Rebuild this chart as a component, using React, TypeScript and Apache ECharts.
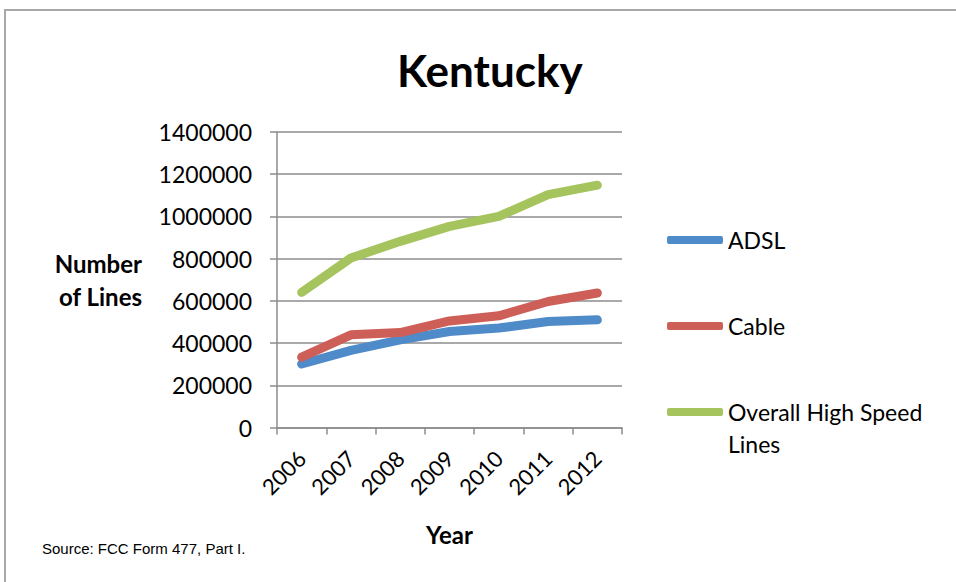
import React, { useEffect, useRef } from "react";
import * as echarts from "echarts";

const years = ["2006", "2007", "2008", "2009", "2010", "2011", "2012"];
const adsl = [301000, 365000, 415000, 455000, 471000, 502000, 510000];
const cable = [333000, 439000, 450000, 505000, 529000, 597000, 637000];
const overall = [640000, 803000, 882000, 953000, 1000000, 1103000, 1148000];
const seriesNames = ["ADSL", "Cable", "Overall High Speed Lines"];
const colors = ["#4F8BC9", "#CE5F58", "#A5C45D"];

const FONT = "Lato, 'Open Sans', sans-serif";

export default function App() {
  const ref = useRef<HTMLDivElement>(null);
  useEffect(() => {
    const chart = echarts.init(ref.current!, null, { renderer: "svg" });
    const legendBase = (name: string, top: number) => ({
      orient: "vertical",
      left: 662,
      top,
      data: [name],
      icon: "roundRect",
      itemWidth: 56,
      itemHeight: 8,
      itemGap: 5,
      textStyle: { fontFamily: FONT, fontSize: 23, color: "#000", lineHeight: 32 },
    });
    chart.setOption({
      animation: false,
      backgroundColor: "#fff",
      color: colors,
      title: {
        text: "Kentucky",
        left: 392,
        top: 43,
        textStyle: { fontFamily: FONT, fontSize: 44, fontWeight: "bold", color: "#000" },
      },
      legend: [
        legendBase(seriesNames[0], 219),
        legendBase(seriesNames[1], 305),
        {
          ...legendBase(seriesNames[2], 359),
          formatter: () => "\nOverall High Speed\nLines",
        },
      ],
      grid: { left: 277, right: 334, top: 132, bottom: 154.5, containLabel: false },
      xAxis: {
        type: "category",
        data: years,
        boundaryGap: true,
        name: "Year",
        nameLocation: "middle",
        nameGap: 95,
        nameTextStyle: { fontFamily: FONT, fontSize: 24, fontWeight: "bold", color: "#000" },
        axisLine: { lineStyle: { color: "#8c8c8c", width: 1.5 } },
        axisTick: { show: true, length: 7, alignWithLabel: false, lineStyle: { color: "#8c8c8c", width: 1.5 } },
        axisLabel: { rotate: 45, margin: 27, fontFamily: FONT, fontSize: 22, color: "#000", interval: 0 },
        splitLine: { show: false },
      },
      yAxis: {
        type: "value",
        min: 0,
        max: 1400000,
        interval: 200000,
        name: "Number\nof Lines",
        nameLocation: "middle",
        nameRotate: 0,
        nameGap: 135,
        nameTextStyle: {
          fontFamily: FONT,
          fontSize: 24,
          fontWeight: "bold",
          color: "#000",
          lineHeight: 33,
          padding: [11, 0, 0, 0],
        },
        axisLine: { show: true, lineStyle: { color: "#8c8c8c", width: 1.5 } },
        axisTick: { show: true, length: 7, lineStyle: { color: "#8c8c8c", width: 1.5 } },
        axisLabel: {
          margin: 25,
          fontFamily: FONT,
          fontSize: 23,
          color: "#000",
          formatter: (v: number) => String(v),
        },
        splitLine: { show: true, lineStyle: { color: "#8c8c8c", width: 1.5 } },
      },
      series: [
        { name: seriesNames[0], type: "line", data: adsl },
        { name: seriesNames[1], type: "line", data: cable },
        { name: seriesNames[2], type: "line", data: overall },
      ].map((s, i) => ({
        ...s,
        showSymbol: false,
        symbol: "none",
        lineStyle: { width: 9, color: colors[i], cap: "round", join: "round" },
        itemStyle: { color: colors[i] },
      })),
      graphic: [
        {
          type: "rect",
          shape: { x: 5, y: 10, width: 1000, height: 700 },
          style: { fill: "none", stroke: "#a8a8a8", lineWidth: 2 },
          silent: true,
        },
        {
          type: "text",
          x: 42,
          y: 541,
          style: {
            text: "Source: FCC Form 477, Part I.",
            fontFamily: "'Liberation Sans', Arial, sans-serif",
            fontSize: 15,
            fill: "#000",
          },
        },
      ],
    });
    return () => chart.dispose();
  }, []);
  return (
    <div
      ref={ref}
      style={{ position: "fixed", left: 0, top: 0, width: 956, height: 582 }}
    />
  );
}
